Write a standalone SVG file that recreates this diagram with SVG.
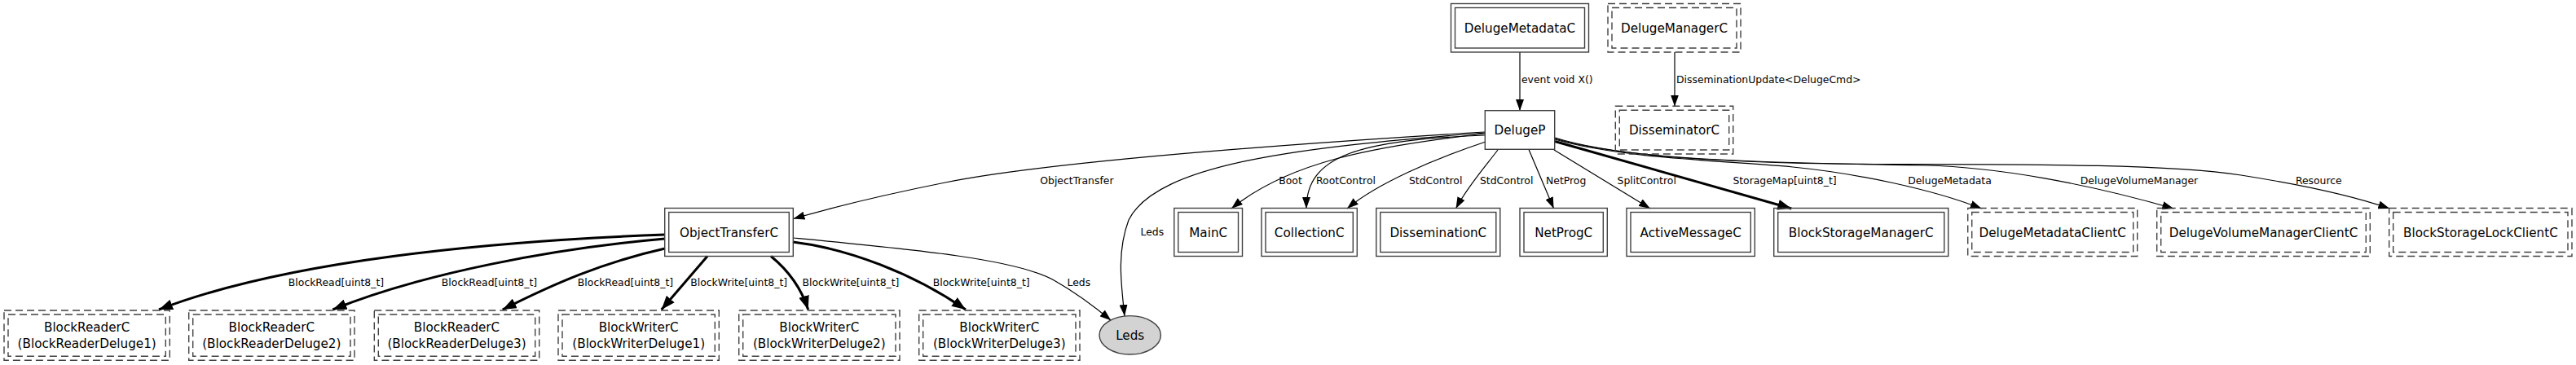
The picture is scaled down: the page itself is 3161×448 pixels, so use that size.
<svg xmlns="http://www.w3.org/2000/svg" width="3161" height="448" viewBox="0 0 3161 448">
<style>
.bg{fill:#ffffff}
.box{fill:none;stroke:#404040;stroke-width:1.4}
.dash{fill:none;stroke:#404040;stroke-width:1.4;stroke-dasharray:9,5}
.nt{font-family:"DejaVu Sans",sans-serif;font-size:15.2px;fill:#000;text-anchor:middle}
.et{font-family:"DejaVu Sans",sans-serif;font-size:12.4px;fill:#000;text-anchor:middle}
.e{fill:none;stroke:#000;stroke-width:1.2;marker-end:url(#ah)}
.eb{fill:none;stroke:#000;stroke-width:3;marker-end:url(#ahb)}
</style>
<defs>
<marker id="ah" markerUnits="userSpaceOnUse" markerWidth="14" markerHeight="10" refX="14" refY="5" orient="auto">
<path d="M0,0 L14,5 L0,10 z" fill="#000"/>
</marker>
<marker id="ahb" markerUnits="userSpaceOnUse" markerWidth="17" markerHeight="13" refX="17" refY="6.5" orient="auto">
<path d="M0,0 L17,6.5 L0,13 z" fill="#000"/>
</marker>
</defs>
<rect class="bg" x="0" y="0" width="3161" height="448"/>

<g id="connectors">
<path class="e" d="M1865,64 L1865,136"/>
<path class="e" d="M2055,64 L2055,130.5"/>
<path class="e" d="M1822,162 C1560,178 1280,200 1160,224 C1080,240 1020,255 973.5,268.5"/>
<path class="e" d="M1822,164 C1680,180 1580,200 1511,256"/>
<path class="e" d="M1822,166 C1670,172 1603,190 1603,256"/>
<path class="e" d="M1823,174 C1760,195 1690,225 1653,256"/>
<path class="e" d="M1838,184 C1822,205 1800,230 1786.5,256"/>
<path class="e" d="M1876,183.5 L1906.6,256"/>
<path class="e" d="M1907,184 L2025,256"/>
<path class="eb" d="M1908,173.5 L2198.3,256"/>
<path class="e" d="M1908,171 C1990,195 2130,198 2200,205 C2280,213 2370,232 2431.7,256"/>
<path class="e" d="M1908,170 C1990,195 2150,200 2363,203 C2450,205 2560,225 2667.3,256"/>
<path class="e" d="M1908,169 C1990,195 2150,201 2300,201.5 C2450,202 2650,200 2750,215 C2820,226 2880,238 2932.3,256"/>
<path class="e" d="M1822,163 C1600,180 1420,200 1385,270 C1370,310 1376,350 1380,388"/>
<path class="eb" d="M816,288 C600,296 350,320 195,380"/>
<path class="eb" d="M816,293 C680,305 520,335 408.3,380"/>
<path class="eb" d="M816,305 C740,322 680,348 616.7,380"/>
<path class="eb" d="M868,314.5 L811.7,380"/>
<path class="eb" d="M946,314.5 C965,330 982,350 991.7,380"/>
<path class="eb" d="M973,297 C1040,305 1120,335 1185,380"/>
<path class="e" d="M973,292 C1120,306 1250,318 1295,345 C1325,362 1345,378 1363.3,393.3"/>
<text class="et" x="1867" y="101.5" style="text-anchor:start">event void X()</text>
<text class="et" x="2057" y="101.5" style="text-anchor:start">DisseminationUpdate&lt;DelugeCmd&gt;</text>
<text class="et" x="1321.4" y="226">ObjectTransfer</text>
<text class="et" x="1583.5" y="226">Boot</text>
<text class="et" x="1651.5" y="226">RootControl</text>
<text class="et" x="1761.7" y="226">StdControl</text>
<text class="et" x="1848.7" y="226">StdControl</text>
<text class="et" x="1921.7" y="226">NetProg</text>
<text class="et" x="2020.7" y="226">SplitControl</text>
<text class="et" x="2190" y="226">StorageMap[uint8_t]</text>
<text class="et" x="2392.5" y="226">DelugeMetadata</text>
<text class="et" x="2625" y="226">DelugeVolumeManager</text>
<text class="et" x="2845.3" y="226">Resource</text>
<text class="et" x="1413.8" y="288.7">Leds</text>
<text class="et" x="412.5" y="350.5">BlockRead[uint8_t]</text>
<text class="et" x="600.5" y="350.5">BlockRead[uint8_t]</text>
<text class="et" x="767.5" y="350.5">BlockRead[uint8_t]</text>
<text class="et" x="906.7" y="350.5">BlockWrite[uint8_t]</text>
<text class="et" x="1044" y="350.5">BlockWrite[uint8_t]</text>
<text class="et" x="1204.2" y="350.5">BlockWrite[uint8_t]</text>
<text class="et" x="1323.8" y="350.5">Leds</text>
</g>

<g id="DelugeMetadataC">
<rect class="box" x="1780.5" y="4.5" width="169" height="59.5"/>
<rect class="box" x="1785.5" y="9.5" width="159" height="49.5"/>
<text class="nt" x="1865" y="39.5">DelugeMetadataC</text>
</g>
<g id="DelugeManagerC">
<rect class="dash" x="1973" y="4.5" width="163" height="59.5"/>
<rect class="dash" x="1978" y="9.5" width="153" height="49.5"/>
<text class="nt" x="2054.5" y="39.5">DelugeManagerC</text>
</g>
<g id="DelugeP">
<rect class="box" x="1822.3" y="135.7" width="85.4" height="47.6"/>
<text class="nt" x="1865" y="165">DelugeP</text>
</g>
<g id="DisseminatorC">
<rect class="dash" x="1982.3" y="130.3" width="144.4" height="58.7"/>
<rect class="dash" x="1987.3" y="135.3" width="134.4" height="48.7"/>
<text class="nt" x="2054.5" y="165">DisseminatorC</text>
</g>

<g id="ObjectTransferC">
<rect class="box" x="815.7" y="255.5" width="157.6" height="59"/>
<rect class="box" x="820.7" y="260.5" width="147.6" height="49"/>
<text class="nt" x="894.5" y="290.5">ObjectTransferC</text>
</g>
<g id="MainC">
<rect class="box" x="1440.8" y="255.5" width="83.7" height="59"/>
<rect class="box" x="1445.8" y="260.5" width="73.7" height="49"/>
<text class="nt" x="1482.7" y="290.5">MainC</text>
</g>
<g id="CollectionC">
<rect class="box" x="1548" y="255.5" width="117.3" height="59"/>
<rect class="box" x="1553" y="260.5" width="107.3" height="49"/>
<text class="nt" x="1606.7" y="290.5">CollectionC</text>
</g>
<g id="DisseminationC">
<rect class="box" x="1688.8" y="255.5" width="152" height="59"/>
<rect class="box" x="1693.8" y="260.5" width="142" height="49"/>
<text class="nt" x="1764.8" y="290.5">DisseminationC</text>
</g>
<g id="NetProgC">
<rect class="box" x="1865" y="255.5" width="107.3" height="59"/>
<rect class="box" x="1870" y="260.5" width="97.3" height="49"/>
<text class="nt" x="1918.7" y="290.5">NetProgC</text>
</g>
<g id="ActiveMessageC">
<rect class="box" x="1996" y="255.5" width="157.3" height="59"/>
<rect class="box" x="2001" y="260.5" width="147.3" height="49"/>
<text class="nt" x="2074.7" y="290.5">ActiveMessageC</text>
</g>
<g id="BlockStorageManagerC">
<rect class="box" x="2176.7" y="255.5" width="214" height="59"/>
<rect class="box" x="2181.7" y="260.5" width="204" height="49"/>
<text class="nt" x="2283.7" y="290.5">BlockStorageManagerC</text>
</g>
<g id="DelugeMetadataClientC">
<rect class="dash" x="2414.7" y="255.5" width="208" height="59"/>
<rect class="dash" x="2419.7" y="260.5" width="198" height="49"/>
<text class="nt" x="2518.7" y="290.5">DelugeMetadataClientC</text>
</g>
<g id="DelugeVolumeManagerClientC">
<rect class="dash" x="2646.7" y="255.5" width="261.6" height="59"/>
<rect class="dash" x="2651.7" y="260.5" width="251.6" height="49"/>
<text class="nt" x="2777.5" y="290.5">DelugeVolumeManagerClientC</text>
</g>
<g id="BlockStorageLockClientC">
<rect class="dash" x="2931.7" y="255.5" width="224.3" height="59"/>
<rect class="dash" x="2936.7" y="260.5" width="214.3" height="49"/>
<text class="nt" x="3043.9" y="290.5">BlockStorageLockClientC</text>
</g>

<g id="BlockReaderDeluge1">
<rect class="dash" x="5" y="381" width="203.3" height="61.3"/>
<rect class="dash" x="10" y="386" width="193.3" height="51.3"/>
<text class="nt" x="106.7" y="406.5">BlockReaderC</text>
<text class="nt" x="106.7" y="426.5">(BlockReaderDeluge1)</text>
</g>
<g id="BlockReaderDeluge2">
<rect class="dash" x="231.7" y="381" width="203.3" height="61.3"/>
<rect class="dash" x="236.7" y="386" width="193.3" height="51.3"/>
<text class="nt" x="333.3" y="406.5">BlockReaderC</text>
<text class="nt" x="333.3" y="426.5">(BlockReaderDeluge2)</text>
</g>
<g id="BlockReaderDeluge3">
<rect class="dash" x="459.3" y="381" width="202.4" height="61.3"/>
<rect class="dash" x="464.3" y="386" width="192.4" height="51.3"/>
<text class="nt" x="560.5" y="406.5">BlockReaderC</text>
<text class="nt" x="560.5" y="426.5">(BlockReaderDeluge3)</text>
</g>
<g id="BlockWriterDeluge1">
<rect class="dash" x="685" y="381" width="197.3" height="61.3"/>
<rect class="dash" x="690" y="386" width="187.3" height="51.3"/>
<text class="nt" x="783.7" y="406.5">BlockWriterC</text>
<text class="nt" x="783.7" y="426.5">(BlockWriterDeluge1)</text>
</g>
<g id="BlockWriterDeluge2">
<rect class="dash" x="906.7" y="381" width="197.3" height="61.3"/>
<rect class="dash" x="911.7" y="386" width="187.3" height="51.3"/>
<text class="nt" x="1005.3" y="406.5">BlockWriterC</text>
<text class="nt" x="1005.3" y="426.5">(BlockWriterDeluge2)</text>
</g>
<g id="BlockWriterDeluge3">
<rect class="dash" x="1127.7" y="381" width="197.3" height="61.3"/>
<rect class="dash" x="1132.7" y="386" width="187.3" height="51.3"/>
<text class="nt" x="1226.3" y="406.5">BlockWriterC</text>
<text class="nt" x="1226.3" y="426.5">(BlockWriterDeluge3)</text>
</g>
<g id="Leds">
<ellipse cx="1386.7" cy="411.3" rx="37.7" ry="23.7" fill="#d3d3d3" stroke="#404040" stroke-width="1.4"/>
<text class="nt" x="1386.7" y="416.8">Leds</text>
</g>
</svg>
